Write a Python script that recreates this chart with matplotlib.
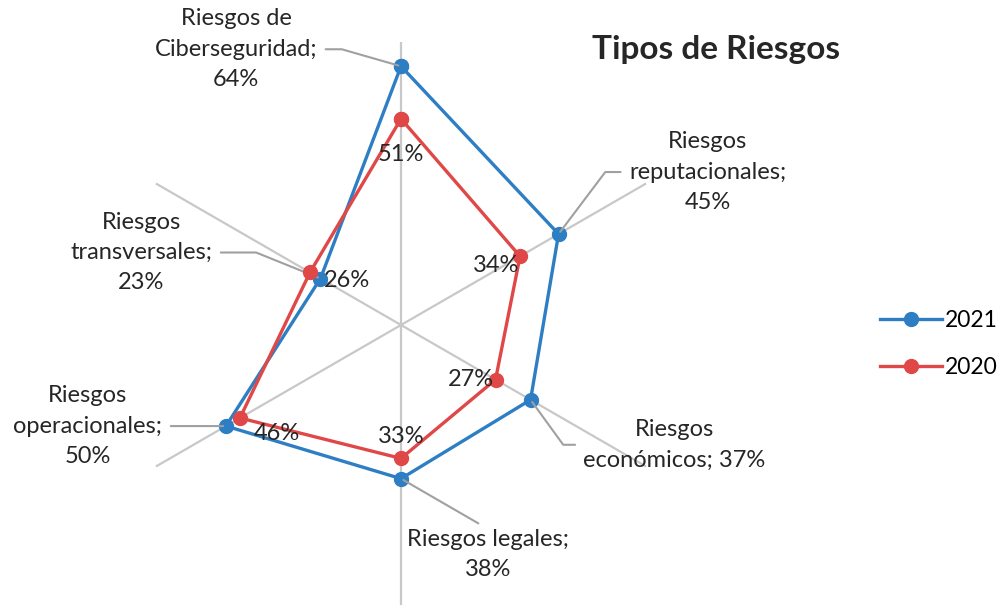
import numpy as np
import matplotlib.pyplot as plt

# Tipos de Riesgos - radar 2021 vs 2020
categorias = ["Riesgos de\nCiberseguridad;", "Riesgos\nreputacionales;", "Riesgos\neconómicos;",
              "Riesgos legales;", "Riesgos\noperacionales;", "Riesgos\ntransversales;"]
etiquetas_2021 = ["Riesgos de\nCiberseguridad;\n64%", "Riesgos\nreputacionales;\n45%",
                  "Riesgos\neconómicos; 37%", "Riesgos legales;\n38%",
                  "Riesgos\noperacionales;\n50%", "Riesgos\ntransversales;\n23%"]
v2021 = [64, 45, 37, 38, 50, 23]
v2020 = [51, 34, 27, 33, 46, 26]
series = ["2021", "2020"]

plt.rcParams['font.family'] = ['Lato', 'DejaVu Sans']
azul = "#2E7EC4"
rojo = "#E04848"
W, H = 1007, 605

fig = plt.figure(figsize=(W/100, H/100), dpi=100)
cx, cy, R = 401, 325, 283
ax = fig.add_axes([(cx-R)/W, (H-cy-R)/H, 2*R/W, 2*R/H], projection='polar')
ax.set_theta_offset(np.pi/2)
ax.set_theta_direction(-1)
n = len(categorias)
ang = np.linspace(0, 2*np.pi, n, endpoint=False)
ax.set_ylim(0, 70)
ax.set_xticks(ang)
ax.set_xticklabels([])
ax.set_yticks([])
ax.xaxis.grid(True, color="#C8C8C8", lw=1.6)
ax.spines['polar'].set_visible(False)
ax.patch.set_alpha(0)
ax.set_axisbelow(True)

angc = np.append(ang, ang[0])
ax.plot(angc, v2021 + v2021[:1], color=azul, lw=2.4, marker='o', ms=10, label=series[0], zorder=3)
ax.plot(angc, v2020 + v2020[:1], color=rojo, lw=2.4, marker='o', ms=10, label=series[1], zorder=4)

fs = 17
gris = "#A0A0A0"
# etiquetas 2021 con lineas guia: (offset px, relpos, connectionstyle)
guias = [((-165, 17), (1, 0.5), "angle,angleA=0,angleB=164,rad=0"),
         ((149, 62), (0, 0.5), "angle,angleA=0,angleB=53,rad=0"),
         ((144, -45), (0, 0.5), "angle,angleA=0,angleB=-54,rad=0"),
         ((87, -76), (0.5, 1), "arc3"),
         ((-138, 0), (1, 0.5), "arc3"),
         ((-179, 26), (1, 0.5), "angle,angleA=0,angleB=158,rad=0")]
for a, v, txt, (off, rp, cs) in zip(ang, v2021, etiquetas_2021, guias):
    ax.annotate(txt, xy=(a, v), xytext=off, textcoords='offset pixels',
                ha='center', va='center', fontsize=fs, color="#262626", linespacing=1.55,
                arrowprops=dict(arrowstyle='-', color=gris, lw=1.5, relpos=rp,
                                connectionstyle=cs, shrinkA=4, shrinkB=2))

# etiquetas 2020
offs2020 = [(0, -36), (-24, -9), (-25, 0), (0, 22), (37, -16), (37, -8)]
for a, v, off in zip(ang, v2020, offs2020):
    ax.annotate(f"{v}%", xy=(a, v), xytext=off, textcoords='offset pixels',
                ha='center', va='center', fontsize=fs, color="#262626", zorder=5)

fig.text(716/W, 1-50/H, "Tipos de Riesgos", ha='center', va='center',
         fontsize=24, fontweight='bold', color="#262626")

fig.legend(loc='center left', bbox_to_anchor=(880/W, 1-344/H), frameon=False,
           fontsize=16.5, handlelength=2.7, labelspacing=1.1, handletextpad=0.15,
           borderpad=0, borderaxespad=0)

fig.savefig("out.png", dpi=100)
